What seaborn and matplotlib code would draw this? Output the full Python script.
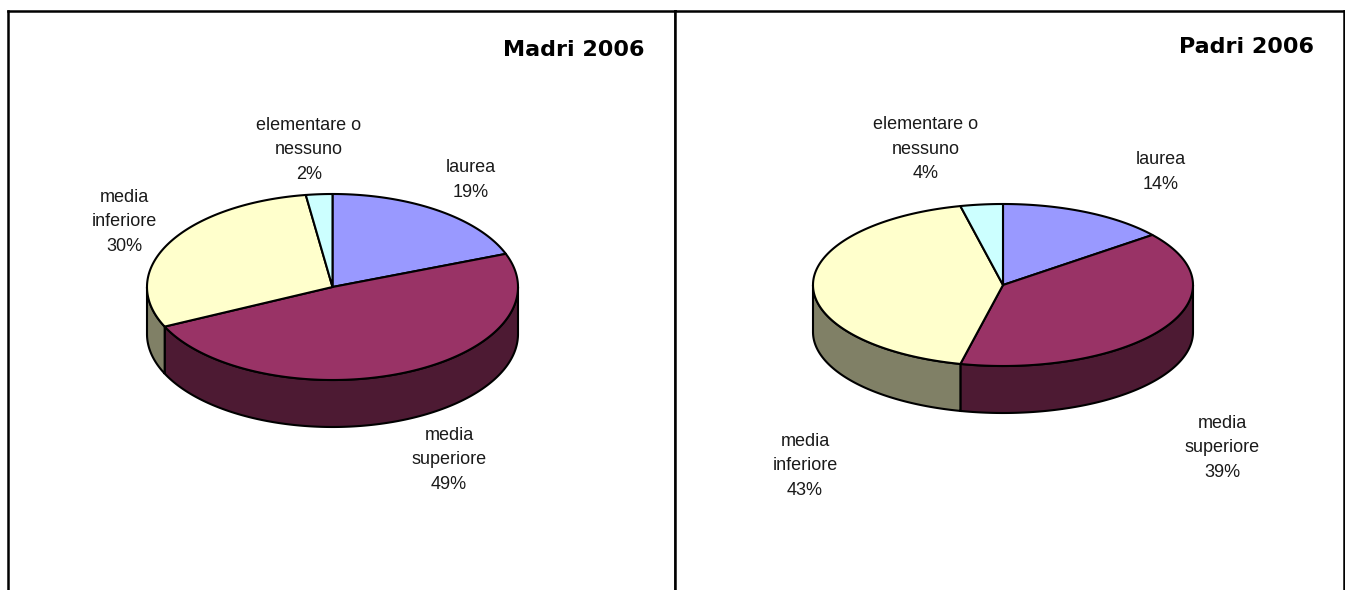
import numpy as np
import seaborn as sns
import matplotlib.pyplot as plt

categories = ["laurea", "media\nsuperiore", "media\ninferiore", "elementare o\nnessuno"]
madri_values = [19.2, 48.8, 29.7, 2.3]
padri_values = [14.4, 39.2, 42.8, 3.6]
titles = ["Madri 2006", "Padri 2006"]

top_colors = ["#9999FF", "#993366", "#FFFFCC", "#CCFFFF"]
side_colors = ["#4D4D80", "#4D1A33", "#808066", "#668080"]

sns.set_theme(style="white")
LINE = 1.5


def ellipse(theta, cx, cy, rx, ry):
    # 0 degrees is 12 o'clock, going clockwise
    return cx + rx * np.sin(theta), cy - ry * np.cos(theta)


def draw_pie3d(ax, values, cx, cy, rx, ry, depth):
    edges = np.radians(np.cumsum([0] + list(values)) * 3.6)

    # walls first, only the front half of the rim can be seen
    for i in range(len(values)):
        a = max(edges[i], np.pi / 2)
        b = min(edges[i + 1], 3 * np.pi / 2)
        if b <= a:
            continue
        t = np.linspace(a, b, 200)
        x, y = ellipse(t, cx, cy, rx, ry)
        ax.fill(np.r_[x, x[::-1]], np.r_[y, y[::-1] + depth],
                facecolor=side_colors[i], edgecolor="black", linewidth=LINE, zorder=2)

    for i in range(len(values)):
        t = np.linspace(edges[i], edges[i + 1], 200)
        x, y = ellipse(t, cx, cy, rx, ry)
        ax.fill(np.r_[cx, x], np.r_[cy, y],
                facecolor=top_colors[i], edgecolor="black", linewidth=LINE,
                joinstyle="round", zorder=3)


def add_labels(ax, values, positions):
    for name, val, (x, y) in zip(categories, values, positions):
        ax.text(x, y, f"{name}\n{round(val)}%", ha="center", va="center",
                multialignment="center", fontsize=13, color="#1a1a1a",
                family="Liberation Sans", linespacing=1.54, zorder=4)


fig = plt.figure(figsize=(13.45, 5.9), dpi=100)
W, H = 1345, 590
TOP = 10.5
panels = [(7.5, 675), (675, 1344)]
axes = []
for left, right in panels:
    ax = fig.add_axes([left / W, 0, (right - left) / W, (H - TOP) / H])
    ax.set_xlim(left, right)
    ax.set_ylim(H, TOP)
    ax.set_xticks([])
    ax.set_yticks([])
    sns.despine(ax=ax, top=False, right=False, left=False, bottom=True)
    for s in ["top", "left", "right"]:
        ax.spines[s].set_color("black")
        ax.spines[s].set_linewidth(1.8)
    axes.append(ax)

draw_pie3d(axes[0], madri_values, 332.5, 287, 185.5, 93, 47)
draw_pie3d(axes[1], padri_values, 1003, 285, 190, 81, 47)

add_labels(axes[0], madri_values, [(471, 180), (449, 460), (124, 222), (309, 150)])
add_labels(axes[1], padri_values, [(1161, 172), (1222, 448), (805, 466), (926, 149)])

axes[0].text(645, 50, titles[0], ha="right", va="center", fontsize=16,
             fontweight="bold", family="DejaVu Sans", color="black")
axes[1].text(1314, 47, titles[1], ha="right", va="center", fontsize=16,
             fontweight="bold", family="DejaVu Sans", color="black")

fig.savefig("out.png", dpi=100, facecolor="white")
